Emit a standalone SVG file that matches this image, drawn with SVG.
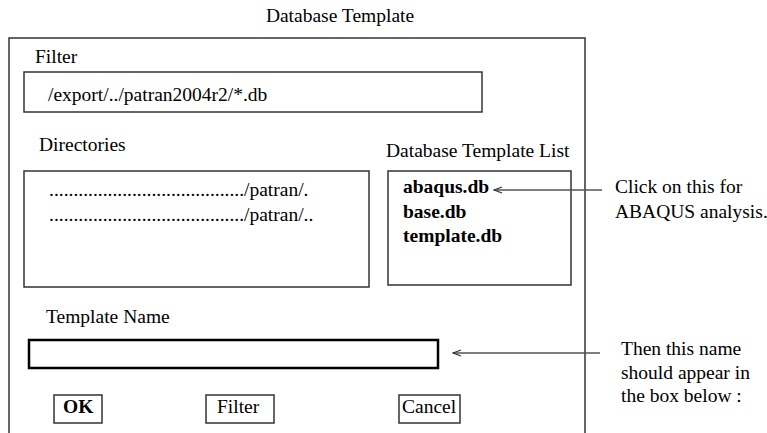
<svg xmlns="http://www.w3.org/2000/svg" width="767" height="433" viewBox="0 0 767 433">
<style>
text{font-family:"Liberation Serif","Times New Roman",serif;font-size:19.5px;fill:#000}
.b{font-weight:bold}
.box{fill:none;stroke:#333;stroke-width:1.5}
.thick{fill:none;stroke:#000;stroke-width:2.5}
.conn{stroke:#555;stroke-width:1.5;fill:none}
</style>
<defs>
<marker id="ah" markerWidth="10" markerHeight="8" refX="9" refY="4" orient="auto" markerUnits="userSpaceOnUse">
<path d="M1,1 L9,4 L1,7" fill="none" stroke="#333" stroke-width="1.3"/>
</marker>
</defs>
<text x="340" y="22" text-anchor="middle">Database Template</text>
<g id="dialog">
<path class="box" d="M9,440 V38 H585 V440"/>
</g>
<g id="filter">
<text x="35" y="63">Filter</text>
<rect class="box" x="24" y="72" width="458" height="40"/>
<text x="48" y="101">/export/../patran2004r2/*.db</text>
</g>
<g id="directories">
<text x="39" y="151">Directories</text>
<rect class="box" x="24" y="171" width="345" height="116"/>
<text x="49" y="196">......................................../patran/.</text>
<text x="49" y="221">......................................../patran/..</text>
</g>
<g id="templatelist">
<text x="386" y="157">Database Template List</text>
<rect class="box" x="388" y="171" width="183" height="114"/>
<text class="b" x="403" y="193">abaqus.db</text>
<text class="b" x="403" y="218">base.db</text>
<text class="b" x="403" y="242">template.db</text>
</g>
<g id="note1">
<text x="615" y="193">Click on this for</text>
<text x="615" y="218">ABAQUS analysis.</text>
</g>
<g id="templatename">
<text x="46" y="323">Template Name</text>
<rect class="thick" x="29" y="340" width="409" height="28"/>
</g>
<g id="note2">
<text x="621" y="355">Then this name</text>
<text x="621" y="379">should appear in</text>
<text x="621" y="402">the box below :</text>
</g>
<g id="ok">
<rect class="box" x="54" y="395" width="48" height="28"/>
<text class="b" x="63" y="413">OK</text>
</g>
<g id="filterbtn">
<rect class="box" x="206" y="395" width="68" height="28"/>
<text x="217" y="413">Filter</text>
</g>
<g id="cancel">
<rect class="box" x="399" y="395" width="61" height="28"/>
<text x="402" y="413">Cancel</text>
</g>
<g id="connectors">
<line class="conn" x1="602" y1="190" x2="494" y2="190" marker-end="url(#ah)"/>
<line class="conn" x1="600" y1="353" x2="453" y2="353" marker-end="url(#ah)"/>
</g>
</svg>
